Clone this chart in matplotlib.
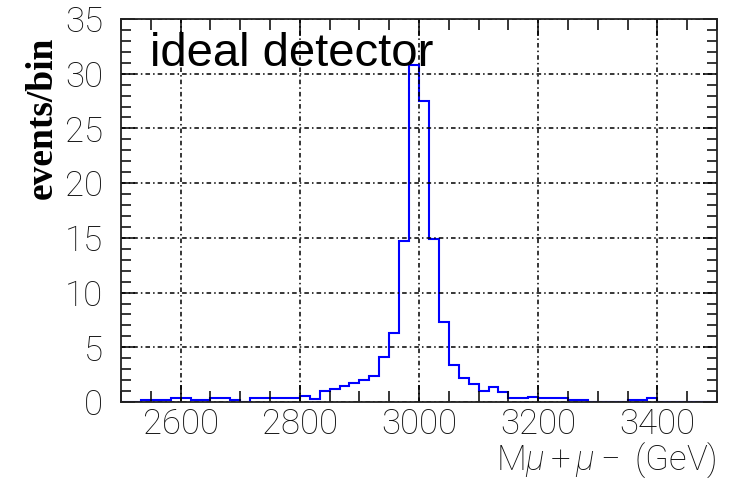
import numpy as np
import matplotlib
matplotlib.use("Agg")
import matplotlib.pyplot as plt
from matplotlib.ticker import MultipleLocator

# ---- data ----
x_min, x_max = 2500, 3500
n_bins = 60
counts = [0, 0, 0.15, 0.15, 0.15, 0.35, 0.35, 0.15, 0.15, 0.35,
          0.35, 0.15, 0, 0.35, 0.35, 0.35, 0.35, 0.35, 0.52, 0.30,
          1.03, 1.19, 1.43, 1.71, 2.0, 2.4, 4.1, 6.3, 14.7, 30.8,
          27.5, 14.9, 7.3, 3.35, 2.2, 1.65, 1.03, 1.34, 0.88, 0.35,
          0.35, 0.5, 0.35, 0.35, 0.35, 0.15, 0.15, 0, 0, 0,
          0, 0.15, 0.15, 0.35, 0, 0, 0, 0, 0, 0]
x_ticks = [2600, 2800, 3000, 3200, 3400]
y_ticks = [0, 5, 10, 15, 20, 25, 30, 35]
title_text = "ideal detector"
x_label = r"M$\mu + \mu -$ (GeV)"
y_label = "events/bin"

plt.rcParams["mathtext.fontset"] = "custom"
plt.rcParams["mathtext.rm"] = "Roboto:light"
plt.rcParams["mathtext.it"] = "Roboto:italic:light"
plt.rcParams["mathtext.fallback"] = "stixsans"

edges = np.linspace(x_min, x_max, n_bins + 1)

W, H = 730, 480
fig = plt.figure(figsize=(W / 100, H / 100), dpi=100)
ax = fig.add_axes([121 / W, 1 - 402 / H, (717 - 121) / W, (402 - 19) / H])

ax.stairs(counts, edges, color="#0000ff", linewidth=1.5, baseline=0, zorder=2)

ax.set_xlim(x_min, x_max)
ax.set_ylim(0, 35)
ax.set_xticks(x_ticks)
ax.set_yticks(y_ticks)
ax.xaxis.set_minor_locator(MultipleLocator(50))
ax.yaxis.set_minor_locator(MultipleLocator(1))

grid_ls = (0, (3, 2, 1, 2))
ax.grid(True, which="major", color="black", linestyle=grid_ls, linewidth=1.1)
ax.set_axisbelow(False)

ax.tick_params(axis="both", which="both", direction="in", top=True, right=True,
               color="black", width=1.1)
ax.tick_params(axis="x", which="major", length=12, pad=4)
ax.tick_params(axis="x", which="minor", length=8)
ax.tick_params(axis="y", which="major", length=10, pad=13)
ax.tick_params(axis="y", which="minor", length=7)

for s in ax.spines.values():
    s.set_linewidth(1.3)
    s.set_color("#222222")
    s.set_zorder(3)

tick_font = dict(family=["Roboto", "DejaVu Sans"], weight="light", size=25)
for lab in ax.get_xticklabels() + ax.get_yticklabels():
    lab.set_fontfamily(tick_font["family"])
    lab.set_fontweight(tick_font["weight"])
    lab.set_fontsize(tick_font["size"])
    lab.set_color("#111111")

fig.text(717 / W, 1 - 470 / H, x_label, ha="right", va="baseline",
         family=["Roboto", "DejaVu Sans"], weight="light", size=25, color="#111111")

fig.text(42 / W, 1 - 118 / H, y_label, ha="center", va="center", rotation=90,
         family=["Liberation Serif", "DejaVu Serif"], weight="bold", size=27)

fig.text(150 / W, 1 - 66 / H, title_text, ha="left", va="baseline",
         family=["Liberation Sans", "DejaVu Sans"], size=34, color="black", zorder=5)

fig.savefig("out.png", dpi=100)
